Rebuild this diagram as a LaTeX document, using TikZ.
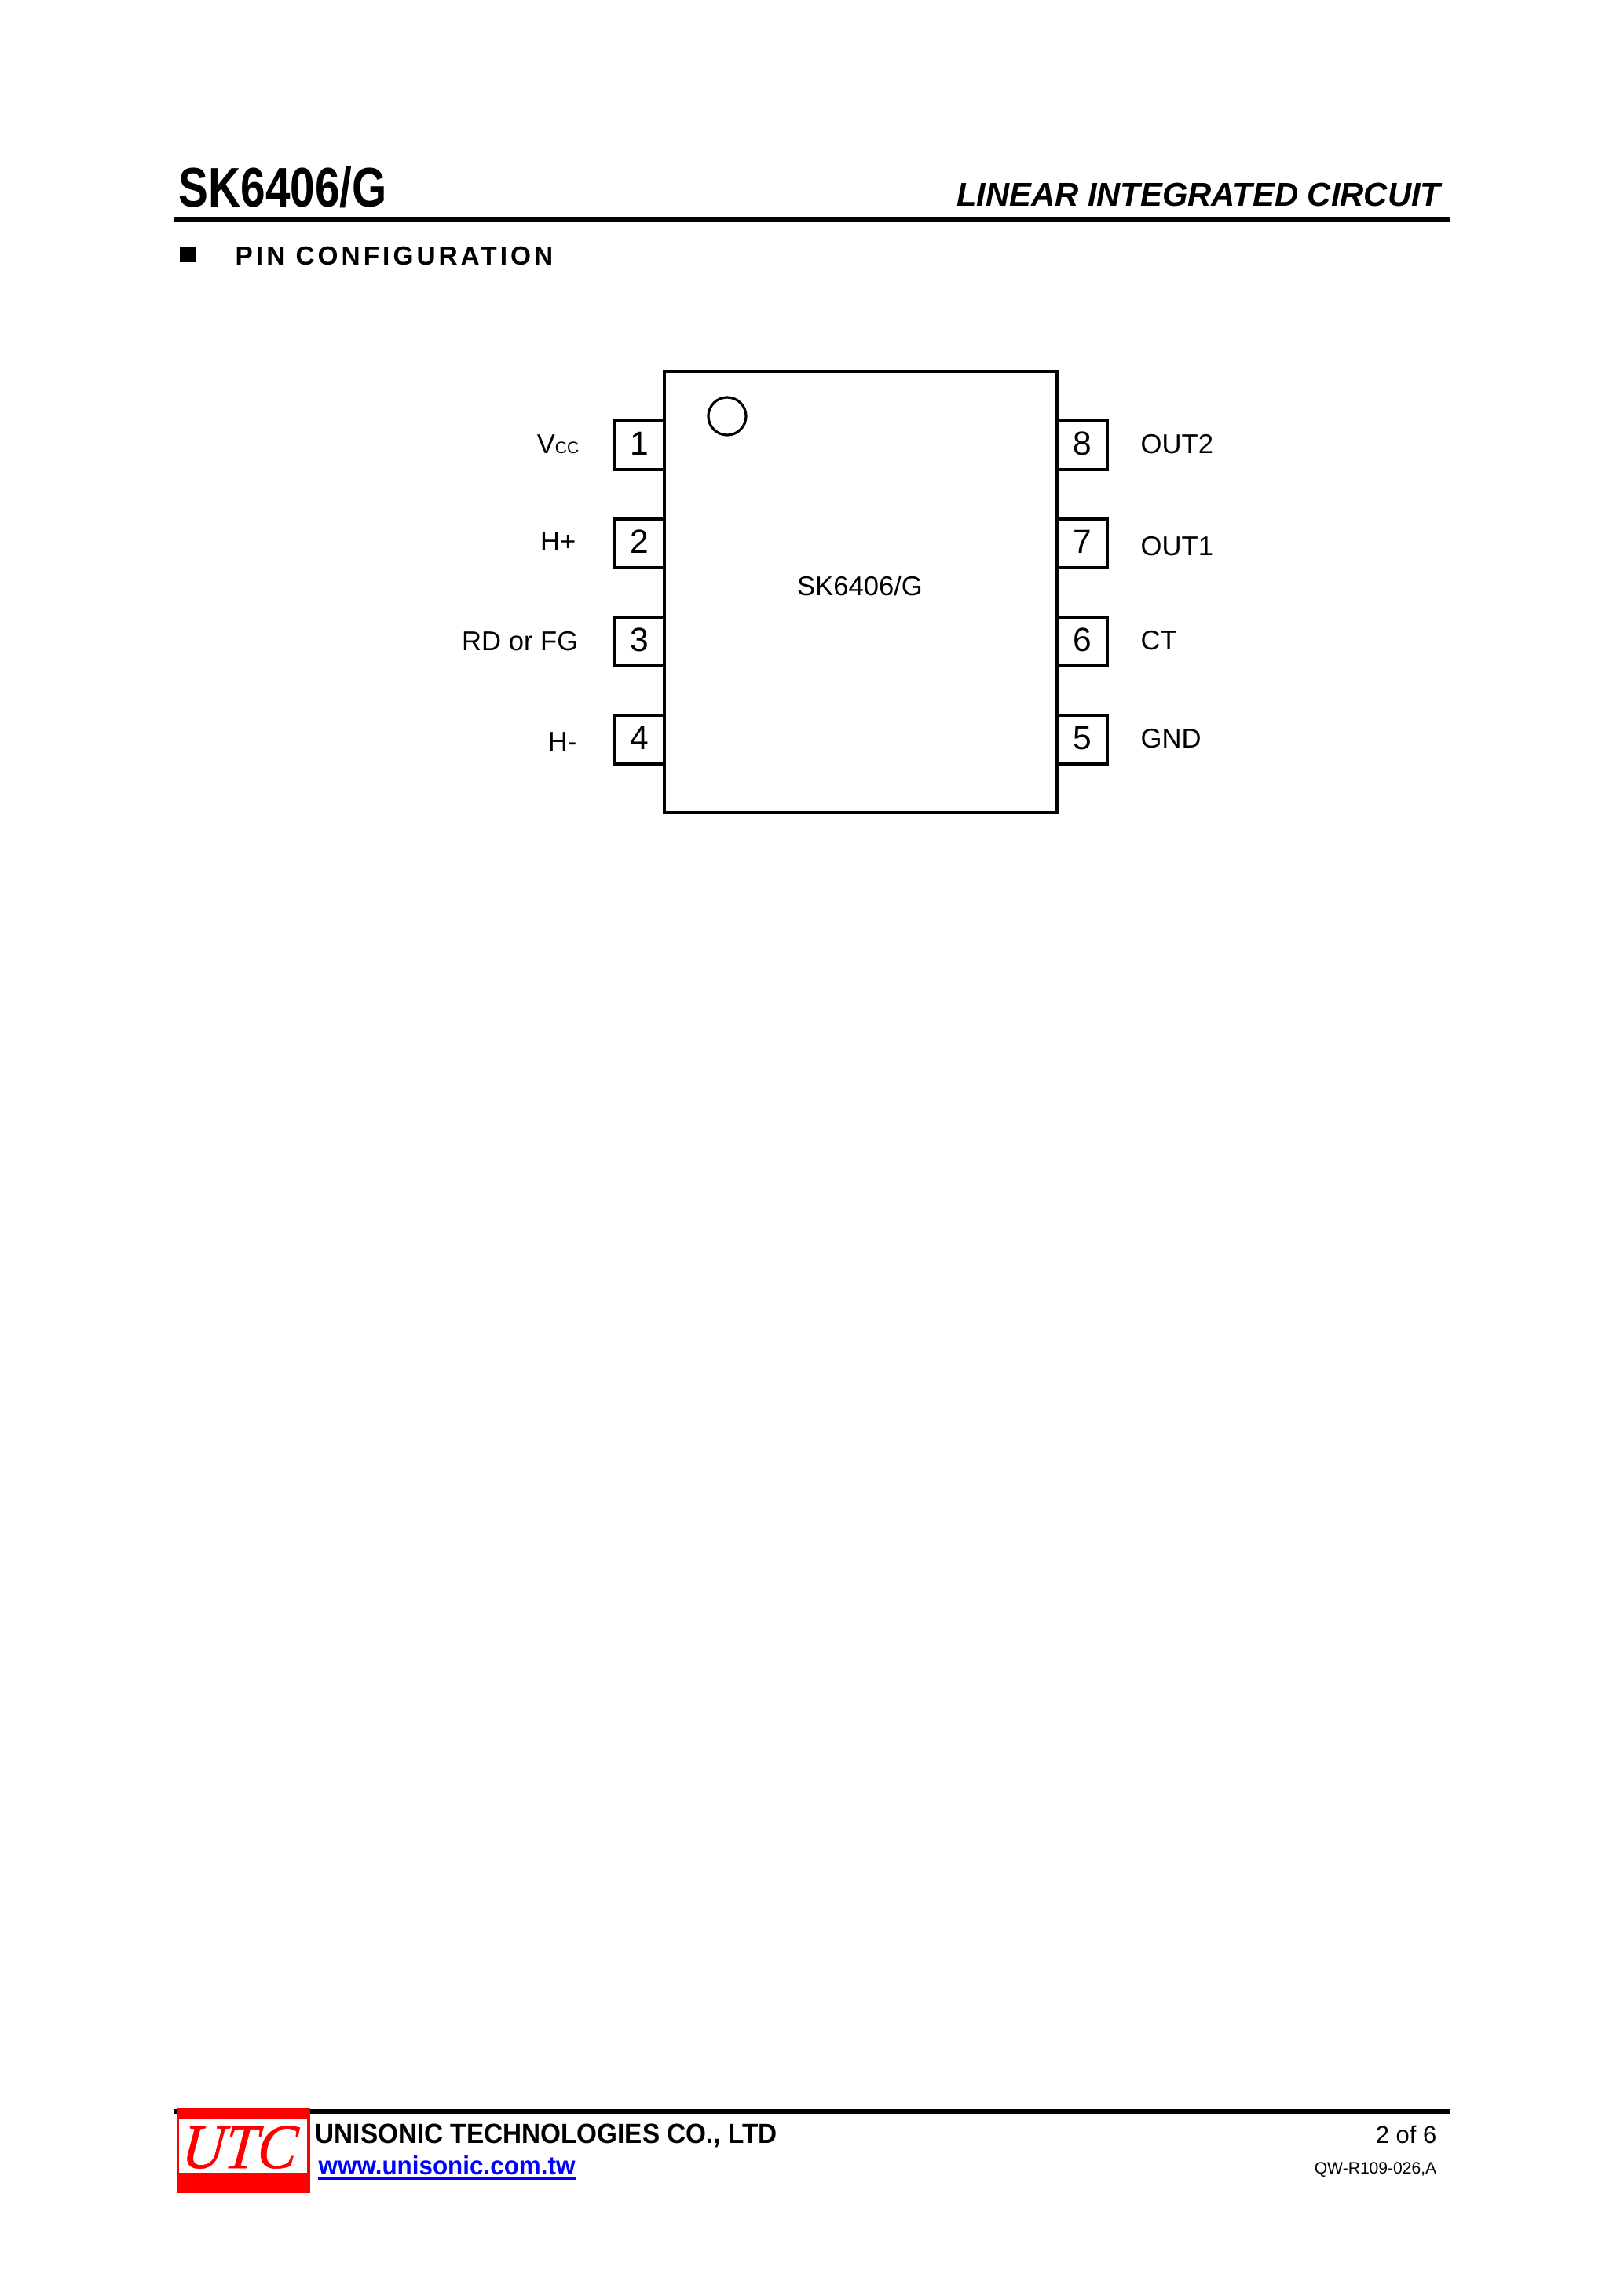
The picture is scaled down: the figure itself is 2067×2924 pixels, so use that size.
\documentclass[tikz,border=0pt]{standalone}
\usepackage{fontspec}
\setmainfont{Liberation Sans}
\newfontfamily\titlefont[FakeStretch=0.8]{Liberation Sans Bold}
\newfontfamily\headfont[FakeStretch=0.99]{Liberation Sans Bold Italic}
\newfontfamily\sectfont[LetterSpace=12]{Liberation Sans Bold}
\newfontfamily\firmfont[FakeStretch=0.948]{Liberation Sans Bold}
\newfontfamily\urlfont[FakeStretch=0.95]{Liberation Sans Bold}
\newfontfamily\logofont[FakeStretch=0.93,FakeSlant=0.1,FakeBold=0.6]{Liberation Serif Italic}
\usepackage{tikz}
\usetikzlibrary{positioning}
\definecolor{logored}{RGB}{255,0,0}
\definecolor{urlblue}{RGB}{0,0,255}
\tikzset{chipbox/.style={draw,line width=0.32mm,minimum width=5cm,minimum height=5.62cm,inner sep=0pt,outer sep=0pt},
         pinbox/.style={draw,line width=0.32mm,minimum width=6.4mm,minimum height=6.2mm,inner sep=0pt,outer sep=0pt,text depth=0.46mm,font=\fontsize{12.1}{14}\selectfont},
         pinlabel/.style={inner sep=0pt,font=\fontsize{9.85}{11}\selectfont},
         rulebar/.style={line width=0.65mm}
}
\begin{document}
\begin{tikzpicture}[x=0.1mm,y=-0.1mm]
\useasboundingbox (0,0) rectangle (2067,2924);

\node[inner sep=0pt,anchor=base west,font=\titlefont\fontsize{20.2}{22}\selectfont] (title) at (227,263) {SK6406/G};
\node[inner sep=0pt,anchor=base east,font=\headfont\fontsize{12}{14}\selectfont] (family) at (1835,262) {LINEAR INTEGRATED CIRCUIT};
\coordinate (headl) at (221,279.5);
\coordinate (headr) at (1847,279.5);
\draw[rulebar] (headl)--(headr);
\node[fill=black,inner sep=0pt,minimum width=2.1mm,minimum height=2mm] (bullet) at (239.5,324) {};
\node[inner sep=0pt,anchor=base west,font=\sectfont\fontsize{9.5}{11}\selectfont] (section) at (299,337) {PIN CONFIGURATION};

\node[chipbox] (chip) at (1096,754) {};
\node[pinlabel,anchor=base] (part) at (1095,758) {SK6406/G};
\node[draw,line width=0.32mm,circle,minimum size=4.8mm,inner sep=0pt] (dot) at (926,530) {};

\node[pinbox] (pin1) at (814,567) {1};
\node[pinbox,below=6.3mm of pin1] (pin2) {2};
\node[pinbox,below=6.3mm of pin2] (pin3) {3};
\node[pinbox,below=6.3mm of pin3] (pin4) {4};
\node[pinbox] (pin8) at (1378,567) {8};
\node[pinbox,below=6.3mm of pin8] (pin7) {7};
\node[pinbox,below=6.3mm of pin7] (pin6) {6};
\node[pinbox,below=6.3mm of pin6] (pin5) {5};

\node[pinlabel,anchor=base east] (vcc) at (738,577) {V{\fontsize{6}{7}\selectfont CC}};
\node[pinlabel,anchor=base east] (hplus) at (734,701) {H+};
\node[pinlabel,anchor=base east] (rdfg) at (737,828) {RD or FG};
\node[pinlabel,anchor=base east] (hminus) at (735,956) {H-};
\node[pinlabel,anchor=base west] (out2) at (1452,577) {OUT2};
\node[pinlabel,anchor=base west] (out1) at (1452,707) {OUT1};
\node[pinlabel,anchor=base west] (ct) at (1452,827) {CT};
\node[pinlabel,anchor=base west] (gnd) at (1452,952) {GND};

\coordinate (footl) at (221,2689);
\coordinate (footr) at (1847,2689);
\draw[rulebar] (footl)--(footr);
\node[fill=logored,inner sep=0pt,minimum width=1.7cm,minimum height=1.08cm] (logo) at (310,2739) {};
\node[fill=white,inner sep=0pt,minimum width=1.63cm,minimum height=0.68cm] (logoin) at (309.5,2733) {};
\node[inner sep=0pt,text=logored,anchor=base,font=\logofont\fontsize{23}{25}\selectfont] (utc) at (303,2761) {UTC};
\node[inner sep=0pt,anchor=base west,font=\firmfont\fontsize{10}{12}\selectfont] (firm) at (401,2729) {UNISONIC TECHNOLOGIES CO., LTD};
\node[inner sep=0pt,anchor=base west,text=urlblue,font=\urlfont\fontsize{9.4}{11}\selectfont] (url) at (405,2769) {www.unisonic.com.tw};
\coordinate (urll) at (405,2774);
\coordinate (urlr) at (733,2774);
\draw[urlblue,line width=0.38mm] (urll)--(urlr);
\node[inner sep=0pt,anchor=base east,font=\fontsize{8.8}{10}\selectfont] (page) at (1830,2729) {2 of 6};
\node[inner sep=0pt,anchor=base east,font=\fontsize{6}{7}\selectfont] (docno) at (1830,2768) {QW-R109-026,A};

\end{tikzpicture}
\end{document}
